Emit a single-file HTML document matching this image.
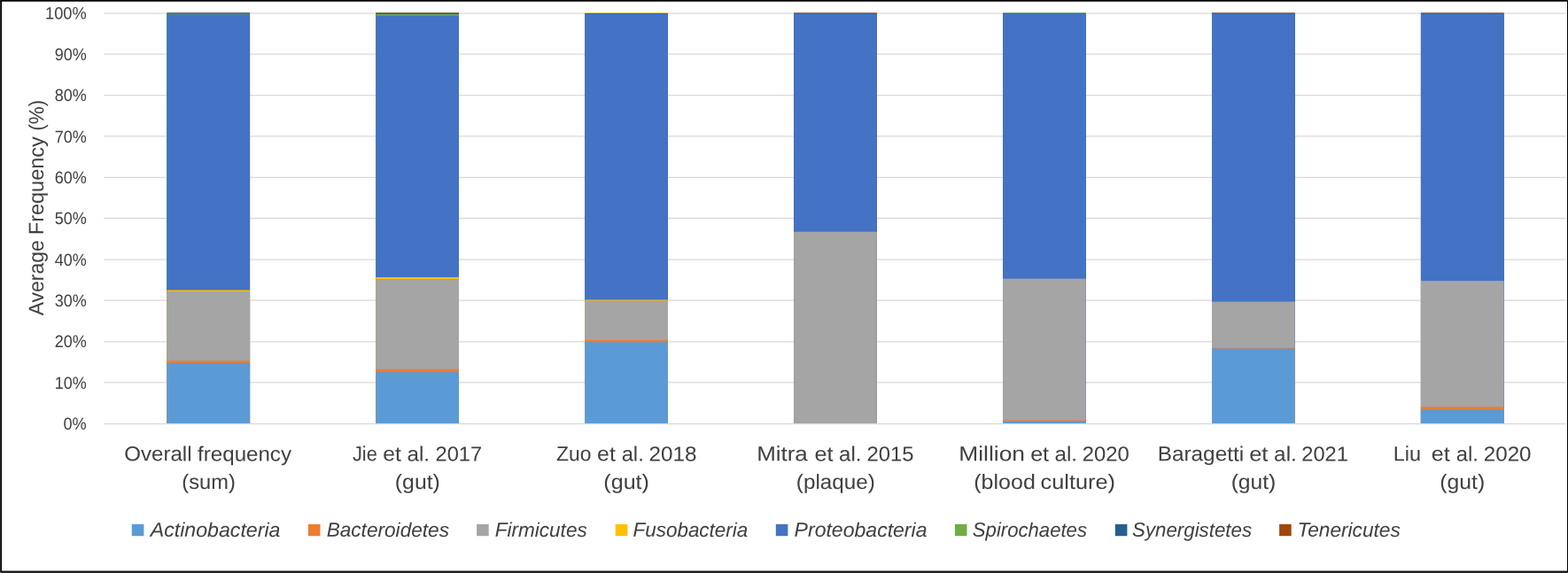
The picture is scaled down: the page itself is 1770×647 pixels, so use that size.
<!DOCTYPE html>
<html lang="en">
<head>
<meta charset="utf-8">
<title>Average frequency of bacterial phyla by study</title>
<style>
html,body{margin:0;padding:0;background:#fff;}
body{width:1770px;height:647px;overflow:hidden;}
svg{display:block;}
text{font-family:"Liberation Sans",sans-serif;fill:#404040;}
.it{font-style:italic;}
</style>
</head>
<body>
<svg xmlns="http://www.w3.org/2000/svg" width="1770" height="647" viewBox="0 0 1770 647">
<rect x="0" y="0" width="1770" height="647" fill="#ffffff"/>
<g stroke="#D9D9D9" stroke-width="1.3" fill="none">
<line x1="117.2" y1="15.1" x2="1767.6" y2="15.1"/>
<line x1="117.2" y1="61.05" x2="1767.6" y2="61.05"/>
<line x1="117.2" y1="107.6" x2="1767.6" y2="107.6"/>
<line x1="117.2" y1="153.8" x2="1767.6" y2="153.8"/>
<line x1="117.2" y1="200.45" x2="1767.6" y2="200.45"/>
<line x1="117.2" y1="246.5" x2="1767.6" y2="246.5"/>
<line x1="117.2" y1="293.2" x2="1767.6" y2="293.2"/>
<line x1="117.2" y1="339.2" x2="1767.6" y2="339.2"/>
<line x1="117.2" y1="385.9" x2="1767.6" y2="385.9"/>
<line x1="117.2" y1="431.9" x2="1767.6" y2="431.9"/>
<line x1="117.2" y1="478.6" x2="1767.6" y2="478.6"/>
</g>
<g>
<rect x="188.35" y="14.4" width="93.7" height="463.6" fill="#9E480E"/>
<rect x="188.35" y="14.6" width="93.7" height="463.4" fill="#255E91"/>
<rect x="188.35" y="15.6" width="93.7" height="462.4" fill="#70AD47"/>
<rect x="188.35" y="16.2" width="93.7" height="461.8" fill="#4472C4"/>
<rect x="188.35" y="327.6" width="93.7" height="150.4" fill="#FFC000"/>
<rect x="188.35" y="329" width="93.7" height="149" fill="#A5A5A5"/>
<rect x="188.35" y="407.3" width="93.7" height="70.7" fill="#ED7D31"/>
<rect x="188.35" y="409.8" width="93.7" height="68.2" fill="#5B9BD5"/>
<rect x="424.28" y="14.4" width="93.7" height="463.6" fill="#9E480E"/>
<rect x="424.28" y="14.6" width="93.7" height="463.4" fill="#255E91"/>
<rect x="424.28" y="16" width="93.7" height="462" fill="#70AD47"/>
<rect x="424.28" y="17.6" width="93.7" height="460.4" fill="#4472C4"/>
<rect x="424.28" y="313" width="93.7" height="165" fill="#FFC000"/>
<rect x="424.28" y="315" width="93.7" height="163" fill="#A5A5A5"/>
<rect x="424.28" y="416.8" width="93.7" height="61.2" fill="#ED7D31"/>
<rect x="424.28" y="420.2" width="93.7" height="57.8" fill="#5B9BD5"/>
<rect x="660.21" y="14.4" width="93.7" height="463.6" fill="#FFC000"/>
<rect x="660.21" y="15" width="93.7" height="463" fill="#255E91"/>
<rect x="660.21" y="15.6" width="93.7" height="462.4" fill="#4472C4"/>
<rect x="660.21" y="338.5" width="93.7" height="139.5" fill="#FFC000"/>
<rect x="660.21" y="339.5" width="93.7" height="138.5" fill="#A5A5A5"/>
<rect x="660.21" y="383.9" width="93.7" height="94.1" fill="#ED7D31"/>
<rect x="660.21" y="386.3" width="93.7" height="91.7" fill="#5B9BD5"/>
<rect x="896.14" y="14.4" width="93.7" height="463.6" fill="#9E480E"/>
<rect x="896.14" y="14.8" width="93.7" height="463.2" fill="#255E91"/>
<rect x="896.14" y="15.6" width="93.7" height="462.4" fill="#4472C4"/>
<rect x="896.14" y="261.7" width="93.7" height="216.3" fill="#A5A5A5"/>
<rect x="1132.07" y="14.4" width="93.7" height="463.6" fill="#70AD47"/>
<rect x="1132.07" y="14.8" width="93.7" height="463.2" fill="#255E91"/>
<rect x="1132.07" y="15.4" width="93.7" height="462.6" fill="#4472C4"/>
<rect x="1132.07" y="314.7" width="93.7" height="163.3" fill="#A5A5A5"/>
<rect x="1132.07" y="474.5" width="93.7" height="3.5" fill="#ED7D31"/>
<rect x="1132.07" y="475.7" width="93.7" height="2.3" fill="#5B9BD5"/>
<rect x="1368" y="14.4" width="93.7" height="463.6" fill="#9E480E"/>
<rect x="1368" y="14.8" width="93.7" height="463.2" fill="#255E91"/>
<rect x="1368" y="15.6" width="93.7" height="462.4" fill="#4472C4"/>
<rect x="1368" y="340.6" width="93.7" height="137.4" fill="#A5A5A5"/>
<rect x="1368" y="392.9" width="93.7" height="85.1" fill="#ED7D31"/>
<rect x="1368" y="393.5" width="93.7" height="84.5" fill="#5B9BD5"/>
<rect x="1603.93" y="14.4" width="93.7" height="463.6" fill="#9E480E"/>
<rect x="1603.93" y="14.8" width="93.7" height="463.2" fill="#255E91"/>
<rect x="1603.93" y="15.6" width="93.7" height="462.4" fill="#4472C4"/>
<rect x="1603.93" y="317.1" width="93.7" height="160.9" fill="#A5A5A5"/>
<rect x="1603.93" y="459.5" width="93.7" height="18.5" fill="#ED7D31"/>
<rect x="1603.93" y="462.4" width="93.7" height="15.6" fill="#5B9BD5"/>
</g>
<g font-size="19.35" text-anchor="end">
<text x="97.65" y="485" transform="rotate(0.03 97.65 485)" textLength="26.2" lengthAdjust="spacingAndGlyphs">0%</text>
<text x="97.65" y="438.65" transform="rotate(0.03 97.65 438.65)" textLength="36" lengthAdjust="spacingAndGlyphs">10%</text>
<text x="97.65" y="392.3" transform="rotate(0.03 97.65 392.3)" textLength="36" lengthAdjust="spacingAndGlyphs">20%</text>
<text x="97.65" y="345.95" transform="rotate(0.03 97.65 345.95)" textLength="36" lengthAdjust="spacingAndGlyphs">30%</text>
<text x="97.65" y="299.6" transform="rotate(0.03 97.65 299.6)" textLength="36" lengthAdjust="spacingAndGlyphs">40%</text>
<text x="97.65" y="253.25" transform="rotate(0.03 97.65 253.25)" textLength="36" lengthAdjust="spacingAndGlyphs">50%</text>
<text x="97.65" y="206.9" transform="rotate(0.03 97.65 206.9)" textLength="36" lengthAdjust="spacingAndGlyphs">60%</text>
<text x="97.65" y="160.55" transform="rotate(0.03 97.65 160.55)" textLength="36" lengthAdjust="spacingAndGlyphs">70%</text>
<text x="97.65" y="114.2" transform="rotate(0.03 97.65 114.2)" textLength="36" lengthAdjust="spacingAndGlyphs">80%</text>
<text x="97.65" y="67.85" transform="rotate(0.03 97.65 67.85)" textLength="36" lengthAdjust="spacingAndGlyphs">90%</text>
<text x="97.65" y="21.5" transform="rotate(0.03 97.65 21.5)" textLength="46.6" lengthAdjust="spacingAndGlyphs">100%</text>
</g>
<text transform="translate(49.1 0) rotate(-90) rotate(0.03 -235 0)" y="0" font-size="23.7"><tspan x="-356.31" textLength="84.95" lengthAdjust="spacingAndGlyphs">Average</tspan> <tspan x="-265.23" textLength="110.96" lengthAdjust="spacingAndGlyphs">Frequency</tspan> <tspan x="-147.87" textLength="35.02" lengthAdjust="spacingAndGlyphs">(%)</tspan></text>
<g font-size="23.35" xml:space="preserve">
<text y="520.4" transform="rotate(0.03 235.1 520.4)"><tspan x="140.28" textLength="76.27" lengthAdjust="spacingAndGlyphs">Overall</tspan> <tspan x="223.12" textLength="105.86" lengthAdjust="spacingAndGlyphs">frequency</tspan></text>
<text y="552" transform="rotate(0.03 235.55 552)"><tspan x="205.38" textLength="60.44" lengthAdjust="spacingAndGlyphs">(sum)</tspan></text>
<text y="520.4" transform="rotate(0.03 470.7 520.4)"><tspan x="397.91" textLength="27.96" lengthAdjust="spacingAndGlyphs">Jie</tspan> <tspan x="432.27" textLength="20.53" lengthAdjust="spacingAndGlyphs">et</tspan> <tspan x="459.46" textLength="25.62" lengthAdjust="spacingAndGlyphs">al.</tspan> <tspan x="491.54" textLength="52.62" lengthAdjust="spacingAndGlyphs">2017</tspan></text>
<text y="552" transform="rotate(0.03 471.4 552)"><tspan x="445.85" textLength="51.04" lengthAdjust="spacingAndGlyphs">(gut)</tspan></text>
<text y="520.4" transform="rotate(0.03 707.1 520.4)"><tspan x="627.94" textLength="39.42" lengthAdjust="spacingAndGlyphs">Zuo</tspan> <tspan x="674.1" textLength="20.75" lengthAdjust="spacingAndGlyphs">et</tspan> <tspan x="701.65" textLength="25.13" lengthAdjust="spacingAndGlyphs">al.</tspan> <tspan x="732.61" textLength="54.02" lengthAdjust="spacingAndGlyphs">2018</tspan></text>
<text y="552" transform="rotate(0.03 707.2 552)"><tspan x="681.39" textLength="51.46" lengthAdjust="spacingAndGlyphs">(gut)</tspan></text>
<text y="520.4" transform="rotate(0.03 943.25 520.4)"><tspan x="854.19" textLength="57.6" lengthAdjust="spacingAndGlyphs">Mitra</tspan> <tspan x="919.57" textLength="20.99" lengthAdjust="spacingAndGlyphs">et</tspan> <tspan x="947.11" textLength="25.39" lengthAdjust="spacingAndGlyphs">al.</tspan> <tspan x="978.4" textLength="52.99" lengthAdjust="spacingAndGlyphs">2015</tspan></text>
<text y="552" transform="rotate(0.03 943.2 552)"><tspan x="898.87" textLength="88.88" lengthAdjust="spacingAndGlyphs">(plaque)</tspan></text>
<text y="520.4" transform="rotate(0.03 1179.15 520.4)"><tspan x="1082.25" textLength="74.75" lengthAdjust="spacingAndGlyphs">Million</tspan> <tspan x="1163.17" textLength="20.9" lengthAdjust="spacingAndGlyphs">et</tspan> <tspan x="1190.46" textLength="25.62" lengthAdjust="spacingAndGlyphs">al.</tspan> <tspan x="1221.86" textLength="52.95" lengthAdjust="spacingAndGlyphs">2020</tspan></text>
<text y="552" transform="rotate(0.03 1179.2 552)"><tspan x="1099.24" textLength="69.57" lengthAdjust="spacingAndGlyphs">(blood</tspan> <tspan x="1174.64" textLength="84.38" lengthAdjust="spacingAndGlyphs">culture)</tspan></text>
<text y="520.4" transform="rotate(0.03 1414.65 520.4)"><tspan x="1306.68" textLength="97.49" lengthAdjust="spacingAndGlyphs">Baragetti</tspan> <tspan x="1410.22" textLength="21.2" lengthAdjust="spacingAndGlyphs">et</tspan> <tspan x="1438.14" textLength="25.66" lengthAdjust="spacingAndGlyphs">al.</tspan> <tspan x="1469.27" textLength="52.56" lengthAdjust="spacingAndGlyphs">2021</tspan></text>
<text y="552" transform="rotate(0.03 1415 552)"><tspan x="1389.66" textLength="50.66" lengthAdjust="spacingAndGlyphs">(gut)</tspan></text>
<text y="520.4" transform="rotate(0.03 1651.15 520.4)"><tspan x="1572.68" textLength="31.34" lengthAdjust="spacingAndGlyphs">Liu</tspan>  <tspan x="1615.88" textLength="20.95" lengthAdjust="spacingAndGlyphs">et</tspan> <tspan x="1643.71" textLength="25.06" lengthAdjust="spacingAndGlyphs">al.</tspan> <tspan x="1674.89" textLength="53.67" lengthAdjust="spacingAndGlyphs">2020</tspan></text>
<text y="552" transform="rotate(0.03 1650.8 552)"><tspan x="1625.3" textLength="50.88" lengthAdjust="spacingAndGlyphs">(gut)</tspan></text>
</g>
<g font-size="22.6" class="it">
<rect x="148.8" y="591.9" width="13.6" height="13.3" fill="#5B9BD5"/>
<text x="169.73" y="605.9" transform="rotate(0.03 242.25 605.9)" textLength="146.74" lengthAdjust="spacingAndGlyphs">Actinobacteria</text>
<rect x="347.9" y="591.9" width="13.6" height="13.3" fill="#ED7D31"/>
<text x="368.64" y="605.9" transform="rotate(0.03 438 605.9)" textLength="138.38" lengthAdjust="spacingAndGlyphs">Bacteroidetes</text>
<rect x="538.1" y="591.9" width="13.6" height="13.3" fill="#A5A5A5"/>
<text x="558.77" y="605.9" transform="rotate(0.03 610.8 605.9)" textLength="103.91" lengthAdjust="spacingAndGlyphs">Firmicutes</text>
<rect x="694.7" y="591.9" width="13.6" height="13.3" fill="#FFC000"/>
<text x="714.51" y="605.9" transform="rotate(0.03 779.45 605.9)" textLength="129.74" lengthAdjust="spacingAndGlyphs">Fusobacteria</text>
<rect x="875.8" y="591.9" width="13.6" height="13.3" fill="#4472C4"/>
<text x="896.62" y="605.9" transform="rotate(0.03 971.6 605.9)" textLength="149.88" lengthAdjust="spacingAndGlyphs">Proteobacteria</text>
<rect x="1077.9" y="591.9" width="13.6" height="13.3" fill="#70AD47"/>
<text x="1097.82" y="605.9" transform="rotate(0.03 1162.35 605.9)" textLength="129.18" lengthAdjust="spacingAndGlyphs">Spirochaetes</text>
<rect x="1258.8" y="591.9" width="13.6" height="13.3" fill="#255E91"/>
<text x="1278.07" y="605.9" transform="rotate(0.03 1345.65 605.9)" textLength="135.02" lengthAdjust="spacingAndGlyphs">Synergistetes</text>
<rect x="1444.1" y="591.9" width="13.6" height="13.3" fill="#9E480E"/>
<text x="1464.44" y="605.9" transform="rotate(0.03 1523.25 605.9)" textLength="116.36" lengthAdjust="spacingAndGlyphs">Tenericutes</text>
</g>
<g>
<rect x="0" y="646" width="1770" height="1" fill="#2c2c2c"/>
<rect x="0" y="0" width="1" height="647" fill="#2c2c2c"/>
<rect x="0" y="0" width="1770" height="1.75" fill="#000"/>
<rect x="1" y="0" width="1.05" height="646" fill="#000"/>
<rect x="1" y="644.55" width="1769" height="1.45" fill="#111"/>
<rect x="1769" y="0" width="1" height="646" fill="#000"/>
<rect x="0" y="646" width="1" height="1" fill="#8c8c8c"/>
<rect x="0" y="0" width="1" height="1" fill="#333"/>
<rect x="1769" y="0" width="1" height="1" fill="#2a2a2a"/>
<rect x="1769" y="646" width="1" height="1" fill="#555"/>
</g>
</svg>
</body>
</html>
